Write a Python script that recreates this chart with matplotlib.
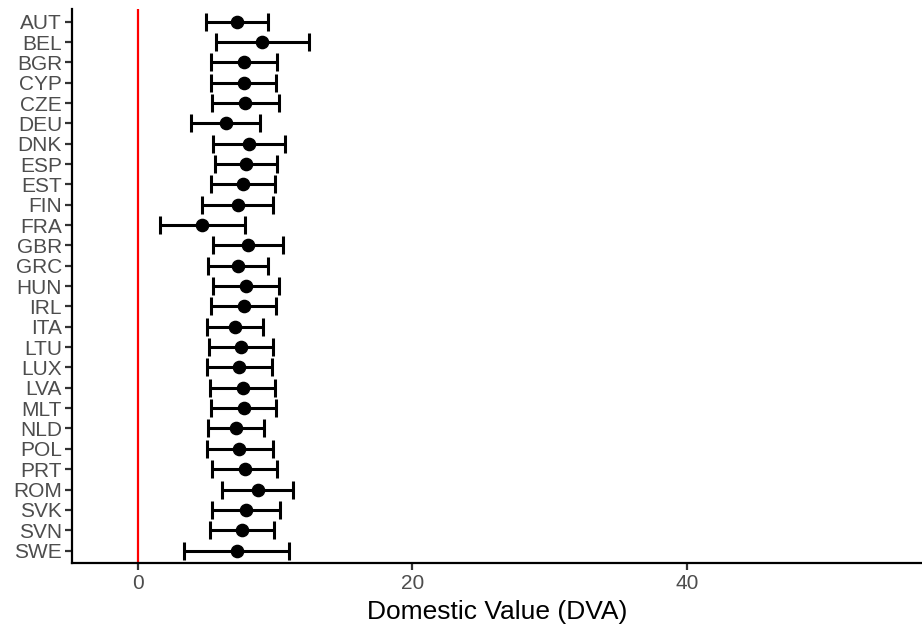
import matplotlib
matplotlib.use("Agg")
import matplotlib.pyplot as plt

plt.rcParams['font.family'] = ['Liberation Sans', 'DejaVu Sans']

countries = ['AUT', 'BEL', 'BGR', 'CYP', 'CZE', 'DEU', 'DNK', 'ESP', 'EST', 'FIN',
             'FRA', 'GBR', 'GRC', 'HUN', 'IRL', 'ITA', 'LTU', 'LUX', 'LVA', 'MLT',
             'NLD', 'POL', 'PRT', 'ROM', 'SVK', 'SVN', 'SWE']
estimate = [7.21, 9.08, 7.75, 7.72, 7.82, 6.41, 8.11, 7.89, 7.67, 7.29,
            4.64, 7.99, 7.29, 7.87, 7.72, 7.07, 7.53, 7.40, 7.67, 7.72,
            7.14, 7.40, 7.77, 8.72, 7.87, 7.62, 7.19]
lower = [4.98, 5.70, 5.32, 5.34, 5.39, 3.91, 5.49, 5.63, 5.32, 4.71,
         1.62, 5.46, 5.10, 5.44, 5.34, 5.05, 5.17, 5.07, 5.27, 5.32,
         5.10, 5.05, 5.39, 6.14, 5.41, 5.24, 3.37]
upper = [9.45, 12.46, 10.10, 10.05, 10.25, 8.89, 10.73, 10.13, 10.00, 9.88,
         7.79, 10.59, 9.49, 10.30, 10.08, 9.13, 9.88, 9.76, 9.98, 10.05,
         9.20, 9.83, 10.15, 11.29, 10.32, 9.95, 11.00]

fig = plt.figure(figsize=(9.22, 6.33), dpi=100)
ax = fig.add_axes([0.0778, 0.111, 0.9222, 0.874])

ypos = list(range(len(countries)))
err_lo = [e - l for e, l in zip(estimate, lower)]
err_hi = [u - e for e, u in zip(estimate, upper)]
ax.axvline(0, color='#FF0000', linewidth=1.6, zorder=1)
ax.errorbar(estimate, ypos, xerr=[err_lo, err_hi], fmt='o', color='black',
            ecolor='black', elinewidth=2.2, capsize=6.2, capthick=2.2,
            markersize=8.8, zorder=3)

ax.set_yticks(ypos)
ax.set_yticklabels(countries)
ax.set_ylim(len(countries) - 1 + 0.6, -0.6)
ax.set_xlim(-4.81, 57.1)
ax.set_xticks([0, 20, 40])
ax.set_xlabel('Domestic Value (DVA)', fontsize=19, color='black', labelpad=5)

for side in ['top', 'right']:
    ax.spines[side].set_visible(False)
for side in ['left', 'bottom']:
    ax.spines[side].set_linewidth(1.6)
    ax.spines[side].set_color('black')
ax.tick_params(axis='both', colors='#333333', labelcolor='#4D4D4D',
               labelsize=15, length=5, width=1.6)
ax.tick_params(axis='y', pad=2)
ax.tick_params(axis='x', pad=3)

fig.savefig('out.png', dpi=100)
